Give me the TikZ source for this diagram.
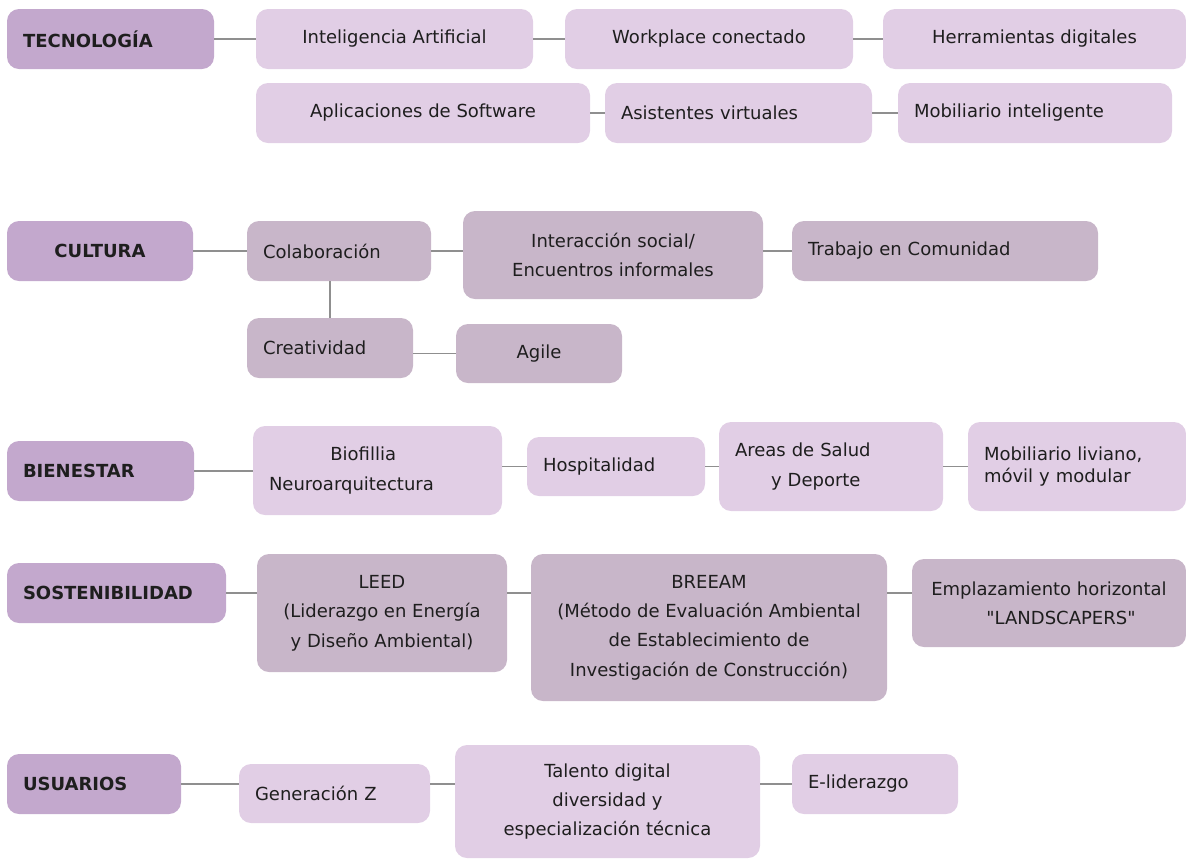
\documentclass[tikz,border=0pt]{standalone}
\usepackage{fontspec}
\setmainfont{DejaVu Sans}[Ligatures=TeXOff]
\usepackage{xcolor}
\definecolor{headc}{HTML}{C3A8CD}
\definecolor{lightc}{HTML}{E1CEE5}
\definecolor{midc}{HTML}{C8B6C9}
\definecolor{linec}{HTML}{8F8F8F}
\definecolor{textc}{HTML}{1E1E1E}

\begin{document}
\begin{tikzpicture}[x=0.75pt,y=-0.75pt,
  every node/.style={font=\fontsize{13.5}{22}\selectfont, text=textc},
  bx/.style={rounded corners=9pt, inner sep=0pt, align=center},
  head/.style={bx, fill=headc, font=\fontsize{13.5}{22}\selectfont\bfseries},
  lbox/.style={bx, fill=lightc},
  mbox/.style={bx, fill=midc},
  lft/.style={align=left, inner xsep=12pt},
  conn/.style={draw=linec, line width=1pt}]
\useasboundingbox (0,0) rectangle (1186,858);

% tecnologia
\node [head, lft, text width=131.25pt, minimum height=45pt] (tec) at (110.5,39) {TECNOLOGÍA};
\node [lbox, minimum width=207.75pt, minimum height=45pt] (ia) at (394.5,39) {Inteligencia Artificial};
\node [lbox, minimum width=216pt, minimum height=45pt] (wc) at (709,39) {Workplace conectado};
\node [lbox, minimum width=227.25pt, minimum height=45pt] (hd) at (1034.5,39) {Herramientas digitales};
\node [lbox, minimum width=250.5pt, minimum height=45pt] (apl) at (423,113) {Aplicaciones de Software};
\node [lbox, lft, text width=176.25pt, minimum height=45pt] (asv) at (738.5,113) {Asistentes virtuales};
\node [lbox, lft, text width=181.5pt, minimum height=45pt] (mob) at (1035,113) {Mobiliario inteligente};
\draw [conn] (tec) -- (ia);
\draw [conn] (ia) -- (wc);
\draw [conn] (wc) -- (hd);
\draw [conn] (apl) -- (asv);
\draw [conn] (asv) -- (mob);

% cultura
\node [head, minimum width=139.5pt, minimum height=45pt] (cul) at (100,251) {CULTURA};
\node [mbox, lft, text width=114pt, minimum height=45pt] (col) at (339,251) {Colaboración};
\node [mbox, minimum width=225pt, minimum height=66pt] (int) at (613,255) {Interacción social/\\Encuentros informales};
\node [mbox, lft, text width=205.5pt, minimum height=45pt] (tra) at (945,251) {Trabajo en Comunidad};
\node [mbox, lft, text width=100.5pt, minimum height=45pt] (cre) at (330,348) {Creatividad};
\node [mbox, minimum width=124.5pt, minimum height=44.25pt] (agi) at (539,353.5) {Agile};
\draw [conn] (cul) -- (col);
\draw [conn] (col.east) -- (col.east -| int.west);
\draw [conn] (tra.west) -- (tra.west -| int.east);
\draw [conn] (cre.north) -- (cre.north |- col.south);
\draw [conn] (agi.west) -- (agi.west -| cre.east);

% bienestar
\node [head, lft, text width=116.25pt, minimum height=45pt] (bie) at (100.5,471) {BIENESTAR};
\node [lbox, lft, text width=162.75pt, minimum height=66.75pt] (bio) at (377.5,470.5) {\hspace*{46pt}Biofillia\\Neuroarquitectura};
\node [lbox, lft, text width=109.5pt, minimum height=44.25pt] (hos) at (616,466.5) {Hospitalidad};
\node [lbox, lft, text width=144pt, minimum height=66.75pt] (are) at (831,466.5) {Areas de Salud\\\hspace*{27pt}y Deporte};
\node [lbox, lft, text width=139.5pt, minimum height=66.75pt, font=\fontsize{13.5}{16.5}\selectfont] (mbl) at (1077,466.5) {Mobiliario liviano,\\móvil y modular};
\draw [conn] (bie.east) -- (bie.east -| bio.west);
\draw [conn] (hos.west) -- (hos.west -| bio.east);
\draw [conn] (hos) -- (are);
\draw [conn] (are) -- (mbl);

% sostenibilidad
\node [head, lft, text width=140.25pt, minimum height=45pt] (sos) at (116.5,593) {SOSTENIBILIDAD};
\node [mbox, minimum width=187.5pt, minimum height=88.5pt] (lee) at (382,613) {LEED\\(Liderazgo en Energía\\y Diseño Ambiental)};
\node [mbox, minimum width=267pt, minimum height=110.25pt] (bre) at (709,627.5) {BREEAM\\(Método de Evaluación Ambiental\\de Establecimiento de\\Investigación de Construcción)};
\node [mbox, minimum width=205.5pt, minimum height=66pt] (emp) at (1049,603) {Emplazamiento horizontal\\\hspace*{18pt}"LANDSCAPERS"};
\draw [conn] (sos.east) -- (sos.east -| lee.west);
\draw [conn] (sos -| lee.east) -- (sos -| bre.west);
\draw [conn] (sos -| bre.east) -- (sos -| emp.west);

% usuarios
\node [head, lft, text width=106.5pt, minimum height=45pt] (usu) at (94,784) {USUARIOS};
\node [lbox, lft, text width=119.25pt, minimum height=44.25pt] (gen) at (334.5,793.5) {Generación Z};
\node [lbox, minimum width=228.75pt, minimum height=84.75pt] (tal) at (607.5,801.5) {Talento digital\\diversidad y\\especialización técnica};
\node [lbox, lft, text width=100.5pt, minimum height=45pt] (eli) at (875,784) {E-liderazgo};
\draw [conn] (usu.east) -- (usu.east -| gen.west);
\draw [conn] (usu -| gen.east) -- (usu -| tal.west);
\draw [conn] (eli.west) -- (eli.west -| tal.east);

\end{tikzpicture}
\end{document}
